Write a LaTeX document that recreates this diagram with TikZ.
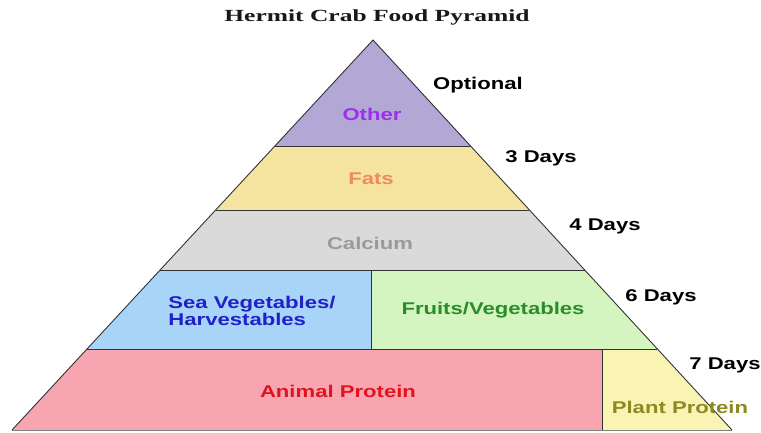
\documentclass[tikz,border=0pt]{standalone}
\usepackage{fontspec}
\setmainfont{Liberation Sans}
\newfontfamily\labfont[FakeStretch=1.3]{Liberation Sans}
\newfontfamily\headfont[FakeStretch=1.5]{Liberation Serif}
\usetikzlibrary{calc}
\definecolor{OtherFill}{HTML}{B3A7D6}
\definecolor{OtherText}{HTML}{9B30E8}
\definecolor{FatsFill}{HTML}{F5E3A0}
\definecolor{FatsText}{HTML}{F08A5D}
\definecolor{CalFill}{HTML}{DADADA}
\definecolor{CalText}{HTML}{9A9A9A}
\definecolor{SeaFill}{HTML}{A8D4F7}
\definecolor{SeaText}{HTML}{2020C8}
\definecolor{FruitFill}{HTML}{D4F5C0}
\definecolor{FruitText}{HTML}{2A8C2A}
\definecolor{AnimalFill}{HTML}{F7A6B1}
\definecolor{AnimalText}{HTML}{E0141E}
\definecolor{PlantFill}{HTML}{FAF4B4}
\definecolor{PlantText}{HTML}{8A8A20}
\definecolor{EdgeGray}{HTML}{333333}

\begin{document}
\begin{tikzpicture}[x=1pt,y=-1pt,
  layer/.style={draw=EdgeGray,line width=0.9pt,line join=miter},
  lbl/.style={font=\labfont\bfseries\fontsize{17}{17}\selectfont,inner sep=0pt},
  days/.style={lbl,text=black}
]
  \useasboundingbox (0,0) rectangle (761,432);
  % corners of the layers
  \coordinate (apex) at (373,40);
  \coordinate (l1) at (275,146); \coordinate (r1) at (471,146);
  \coordinate (l2) at (216,210); \coordinate (r2) at (529,210);
  \coordinate (l3) at (160,270); \coordinate (r3) at (585,270);
  \coordinate (l4) at (87,349);  \coordinate (r4) at (657,349);
  \coordinate (l5) at (12,430);  \coordinate (r5) at (732,430);
  \coordinate (m3) at (371,270); \coordinate (m4) at (371,349);
  \coordinate (n4) at (602,349); \coordinate (n5) at (602,430);

  % layers
  \fill[OtherFill] (apex) -- (r1) -- (l1) -- cycle;
  \fill[FatsFill] (l1) -- (r1) -- (r2) -- (l2) -- cycle;
  \fill[CalFill] (l2) -- (r2) -- (r3) -- (l3) -- cycle;
  \fill[SeaFill] (l3) -- (m3) -- (m4) -- (l4) -- cycle;
  \fill[FruitFill] (m3) -- (r3) -- (r4) -- (m4) -- cycle;
  \fill[AnimalFill] (l4) -- (n4) -- (n5) -- (l5) -- cycle;
  \fill[PlantFill] (n4) -- (r4) -- (r5) -- (n5) -- cycle;

  % outline and dividers
  \draw[layer] (l5) -- (apex) -- (r5);
  \draw[layer,draw=gray] (l5) -- (r5);
  \draw[layer] (l1) -- (r1);
  \draw[layer] (l2) -- (r2);
  \draw[layer] (l3) -- (r3);
  \draw[layer] (l4) -- (r4);
  \draw[layer] (m3) -- (m4);
  \draw[layer] (n4) -- (n5);

  % labels
  \node[inner sep=0pt,font=\headfont\bfseries\fontsize{17}{17}\selectfont,text=black!90] (title) at (377,17) {Hermit Crab Food Pyramid};
  \node[lbl,text=OtherText] (other) at (372,114) {Other};
  \node[lbl,text=FatsText] (fats) at (371,179) {Fats};
  \node[lbl,text=CalText] (calcium) at (370,243) {Calcium};
  \node[lbl,text=SeaText,align=left] (sea) at (252,311) {Sea Vegetables/\\Harvestables};
  \node[lbl,text=FruitText] (fruit) at (493,310) {Fruits/Vegetables};
  \node[lbl,text=AnimalText] (animal) at (338,391) {Animal Protein};
  \node[lbl,text=PlantText] (plant) at (680,407) {Plant Protein};

  \node[days] (optional) at (478,85) {Optional};
  \node[days] (day3) at (541,158) {3 Days};
  \node[days] (day4) at (605,226) {4 Days};
  \node[days] (day6) at (661,297) {6 Days};
  \node[days] (day7) at (725,365) {7 Days};
\end{tikzpicture}
\end{document}
